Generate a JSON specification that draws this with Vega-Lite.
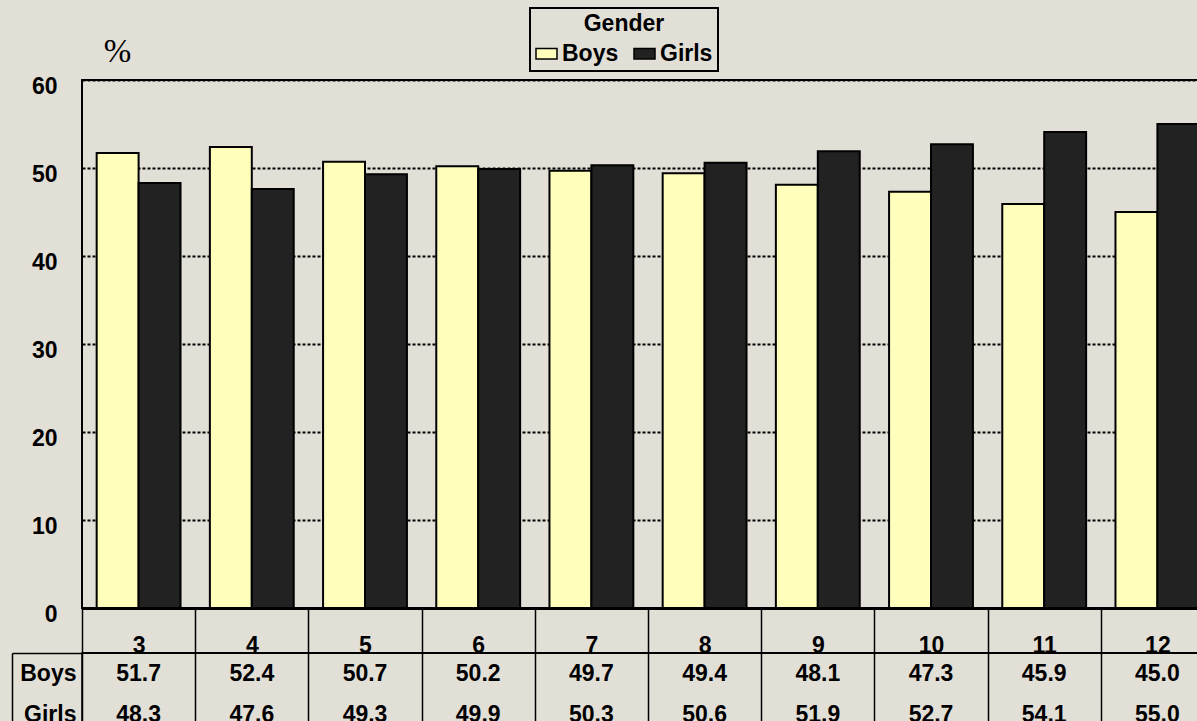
{
  "$schema": "https://vega.github.io/schema/vega-lite/v6.json",
  "background": "#E2DFD6",
  "padding": {"left": 10, "top": 7, "right": 0, "bottom": 0},
  "autosize": {"type": "pad"},
  "datasets": {
    "rows": [
      {"grade": "3", "gender": "Boys", "value": 51.7},
      {"grade": "3", "gender": "Girls", "value": 48.3},
      {"grade": "4", "gender": "Boys", "value": 52.4},
      {"grade": "4", "gender": "Girls", "value": 47.6},
      {"grade": "5", "gender": "Boys", "value": 50.7},
      {"grade": "5", "gender": "Girls", "value": 49.3},
      {"grade": "6", "gender": "Boys", "value": 50.2},
      {"grade": "6", "gender": "Girls", "value": 49.9},
      {"grade": "7", "gender": "Boys", "value": 49.7},
      {"grade": "7", "gender": "Girls", "value": 50.3},
      {"grade": "8", "gender": "Boys", "value": 49.4},
      {"grade": "8", "gender": "Girls", "value": 50.6},
      {"grade": "9", "gender": "Boys", "value": 48.1},
      {"grade": "9", "gender": "Girls", "value": 51.9},
      {"grade": "10", "gender": "Boys", "value": 47.3},
      {"grade": "10", "gender": "Girls", "value": 52.7},
      {"grade": "11", "gender": "Boys", "value": 45.9},
      {"grade": "11", "gender": "Girls", "value": 54.1},
      {"grade": "12", "gender": "Boys", "value": 45.0},
      {"grade": "12", "gender": "Girls", "value": 55.0}
    ]
  },
  "data": {"name": "rows"},
  "spacing": 45,
  "bounds": "flush",
  "config": {
    "font": "Liberation Sans",
    "axis": {"labelFont": "Liberation Sans", "labelFontWeight": "bold", "labelFontSize": 23, "labelColor": "black"}
  },
  "vconcat": [
    {
      "width": 1132,
      "height": 528,
      "view": {"stroke": "black", "strokeWidth": 2},
      "mark": {"type": "bar", "stroke": "black", "strokeWidth": 2},
      "encoding": {
        "x": {
          "field": "grade", "type": "ordinal",
          "sort": ["3","4","5","6","7","8","9","10","11","12"],
          "scale": {"paddingInner": 0, "paddingOuter": 0},
          "axis": {
            "title": null, "orient": "bottom", "domainColor": "black", "domainWidth": 3,
            "ticks": true, "tickBand": "extent", "tickSize": 45, "tickColor": "black", "tickWidth": 1.5,
            "labelAngle": 0, "labelBaseline": "alphabetic", "labelPadding": -1, "grid": false
          }
        },
        "xOffset": {
          "field": "gender", "type": "nominal", "sort": ["Boys", "Girls"],
          "scale": {"paddingInner": 0, "paddingOuter": 0.35}
        },
        "y": {
          "field": "value", "type": "quantitative",
          "scale": {"domain": [0, 60]},
          "axis": {
            "title": "%", "titleAngle": 0, "titleX": 35, "titleY": -29, "titleAlign": "center", "titleBaseline": "middle",
            "titleFont": "Liberation Serif", "titleFontWeight": "normal", "titleFontSize": 33, "titleColor": "black",
            "values": [0, 10, 20, 30, 40, 50, 60], "domain": false, "ticks": false,
            "labelPadding": 25, "labelOffset": 6,
            "grid": true, "gridColor": "black", "gridDash": [3, 2], "gridWidth": 2, "gridOpacity": 1
          }
        },
        "color": {
          "field": "gender", "type": "nominal",
          "scale": {"domain": ["Boys", "Girls"], "range": ["#FFFFBB", "#222222"]},
          "legend": {
            "title": "Gender", "orient": "none", "legendX": 448, "legendY": -72,
            "direction": "horizontal", "titleAnchor": "middle",
            "titleFont": "Liberation Sans", "titleFontSize": 23, "titleFontWeight": "bold", "titleColor": "black",
            "labelFont": "Liberation Sans", "labelFontSize": 23, "labelFontWeight": "bold", "labelColor": "black",
            "symbolType": "M-1,-0.5H1V0.5H-1Z", "symbolSize": 441,
            "symbolStrokeColor": "black", "symbolStrokeWidth": 1.5, "symbolOpacity": 1,
            "strokeColor": "black", "padding": 5, "labelOffset": 4, "columnPadding": 12, "titlePadding": 6,
            "encode": {"legend": {"update": {"strokeWidth": {"value": 2}}}}
          }
        }
      }
    },
    {
      "width": 1132,
      "height": 82,
      "view": {"stroke": "black", "strokeWidth": 1.5},
      "layer": [
        {
          "mark": {"type": "text", "font": "Liberation Sans", "fontWeight": "bold", "fontSize": 23, "color": "black", "baseline": "middle"},
          "encoding": {
            "x": {
              "field": "grade", "type": "ordinal",
              "sort": ["3","4","5","6","7","8","9","10","11","12"],
              "scale": {"paddingInner": 0, "paddingOuter": 0},
              "axis": {
                "title": null, "orient": "top", "labels": false, "ticks": false, "domain": false,
                "grid": true, "tickBand": "extent", "gridColor": "black", "gridWidth": 1.5, "gridOpacity": 1
              }
            },
            "y": {
              "field": "gender", "type": "nominal", "sort": ["Boys", "Girls"],
              "scale": {"paddingInner": 0, "paddingOuter": 0.25},
              "axis": {"title": null, "orient": "left", "domain": false, "ticks": false, "labelPadding": 6, "grid": false}
            },
            "text": {"field": "value", "type": "quantitative", "format": ".1f"}
          }
        },
        {
          "mark": {"type": "rule", "color": "black", "strokeWidth": 1.5},
          "encoding": {
            "y": {
              "datum": 1, "type": "quantitative",
              "scale": {"domain": [0, 1]},
              "axis": {
                "title": null, "orient": "left", "offset": 70, "values": [1], "labels": false,
                "domain": true, "domainColor": "black", "domainWidth": 1.5,
                "ticks": true, "tickSize": -70, "tickColor": "black", "tickWidth": 1.5, "grid": false
              }
            }
          }
        }
      ],
      "resolve": {"scale": {"y": "independent"}, "axis": {"y": "independent"}}
    }
  ]
}
